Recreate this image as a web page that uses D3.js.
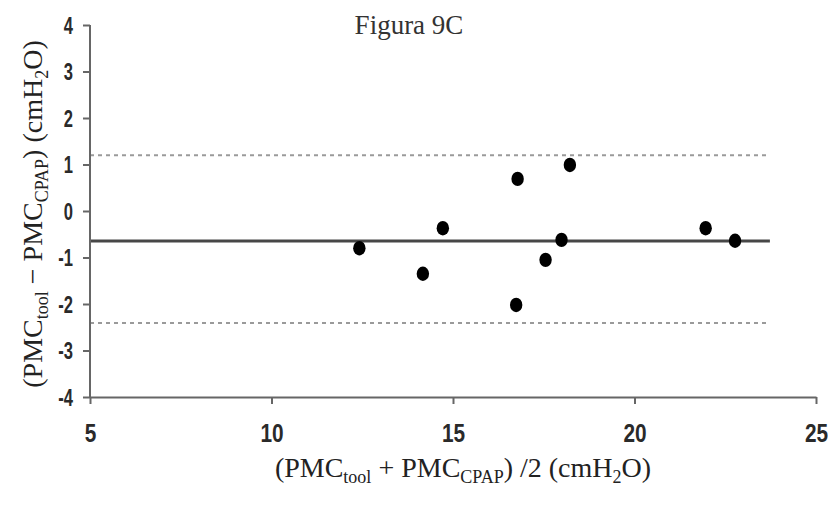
<!DOCTYPE html>
<html>
<head>
<meta charset="utf-8">
<script src="https://cdn.jsdelivr.net/npm/d3@7"></script>
<style>
  html, body { margin: 0; padding: 0; background: #fff; }
  svg { display: block; }
</style>
</head>
<body>
<svg id="chart" width="828" height="512"></svg>
<script>
// ---- data ----
const meanValues = [12.42, 14.72, 14.17, 16.78, 16.74, 18.22, 17.99, 17.55, 21.96, 22.77];
const diffValues = [-0.80, -0.37, -1.35, 0.69, -2.02, 0.99, -0.62, -1.05, -0.37, -0.64];
const biasLine = -0.645;
const limitLines = [1.20, -2.41];
const lineExtent = [5, 23.73];
const xTicks = [5, 10, 15, 20, 25];
const yTicks = [-4, -3, -2, -1, 0, 1, 2, 3, 4];
const titleText = "Figura 9C";

// ---- layout ----
const svg = d3.select("#chart");
const x = d3.scaleLinear().domain([5, 25]).range([90, 816]);
const y = d3.scaleLinear().domain([-4, 4]).range([397, 25]);

const sans = "'Liberation Sans', Arial, sans-serif";
const serif = "'Liberation Serif', 'Times New Roman', serif";

// limit lines (dotted)
svg.selectAll("line.limit").data(limitLines).enter().append("line")
  .attr("class", "limit")
  .attr("x1", x(lineExtent[0])).attr("x2", x(lineExtent[1]))
  .attr("y1", d => y(d)).attr("y2", d => y(d))
  .attr("stroke", "#9a9a9a").attr("stroke-width", 2)
  .attr("stroke-dasharray", "4,4");

// bias line
svg.append("line")
  .attr("x1", x(lineExtent[0])).attr("x2", x(lineExtent[1]))
  .attr("y1", y(biasLine)).attr("y2", y(biasLine))
  .attr("stroke", "#474747").attr("stroke-width", 3.2);

// axes
const yAxis = d3.axisLeft(y).tickValues(yTicks).tickSize(7).tickPadding(10)
  .tickFormat(d => String(d).replace("\u2212", "-"));
const gy = svg.append("g").attr("transform", `translate(${x(5)},0)`).call(yAxis);
gy.select(".domain").attr("stroke", "#666").attr("stroke-width", 2).attr("d", `M0,${y(4)}H-0V${y(-4)}H0`);
gy.selectAll(".tick line").attr("stroke", "#666").attr("stroke-width", 2);
const ySx = 0.72;
gy.selectAll(".tick text")
  .attr("font-family", sans).attr("font-weight", "bold").attr("font-size", 23)
  .attr("fill", "#2a2a2a").attr("dy", "0.36em")
  .attr("x", -17 / ySx)
  .attr("transform", `scale(${ySx},1)`);

const xAxis = d3.axisBottom(x).tickValues(xTicks).tickSize(7).tickPadding(0).tickSizeOuter(0);
const gx = svg.append("g").attr("transform", `translate(0,${y(-4)})`).call(xAxis);
gx.select(".domain").attr("stroke", "#666").attr("stroke-width", 2);
gx.selectAll(".tick line").attr("stroke", "#666").attr("stroke-width", 2);
gx.selectAll(".tick text")
  .attr("font-family", sans).attr("font-weight", "bold").attr("font-size", 26)
  .attr("fill", "#2a2a2a").attr("y", 45).attr("dy", 0)
  .attr("transform", "scale(0.8,1)");

// points
const pts = meanValues.map((m, i) => ({ m, d: diffValues[i] }));
svg.selectAll("ellipse.pt").data(pts).enter().append("ellipse")
  .attr("class", "pt")
  .attr("cx", p => x(p.m)).attr("cy", p => y(p.d))
  .attr("rx", 6.2).attr("ry", 7.2)
  .attr("fill", "#000");

// title
svg.append("text")
  .attr("x", 409).attr("y", 34).attr("text-anchor", "middle")
  .attr("font-family", serif).attr("font-size", 27).attr("fill", "#333")
  .text(titleText);

// x axis label
const xl = svg.append("text")
  .attr("x", 463).attr("y", 477).attr("text-anchor", "middle")
  .attr("font-family", serif).attr("font-size", 28).attr("fill", "#222");
function addLabelParts(t, parts) {
  parts.forEach(p => {
    const s = t.append("tspan").text(p.t);
    if (p.sub) s.attr("font-size", 18).attr("dy", 6);
    else if (p.after) s.attr("dy", -6);
  });
}
addLabelParts(xl, [
  { t: "(PMC" }, { t: "tool", sub: true }, { t: " + PMC", after: true },
  { t: "CPAP", sub: true }, { t: ") /2 (cmH", after: true },
  { t: "2", sub: true }, { t: "O)", after: true }
]);

// y axis label
const yl = svg.append("text")
  .attr("transform", "translate(42,214) rotate(-90)")
  .attr("text-anchor", "middle")
  .attr("font-family", serif).attr("font-size", 28).attr("fill", "#222");
addLabelParts(yl, [
  { t: "(PMC" }, { t: "tool", sub: true }, { t: " \u2212 PMC", after: true },
  { t: "CPAP", sub: true }, { t: ") (cmH", after: true },
  { t: "2", sub: true }, { t: "O)", after: true }
]);
</script>
</body>
</html>
